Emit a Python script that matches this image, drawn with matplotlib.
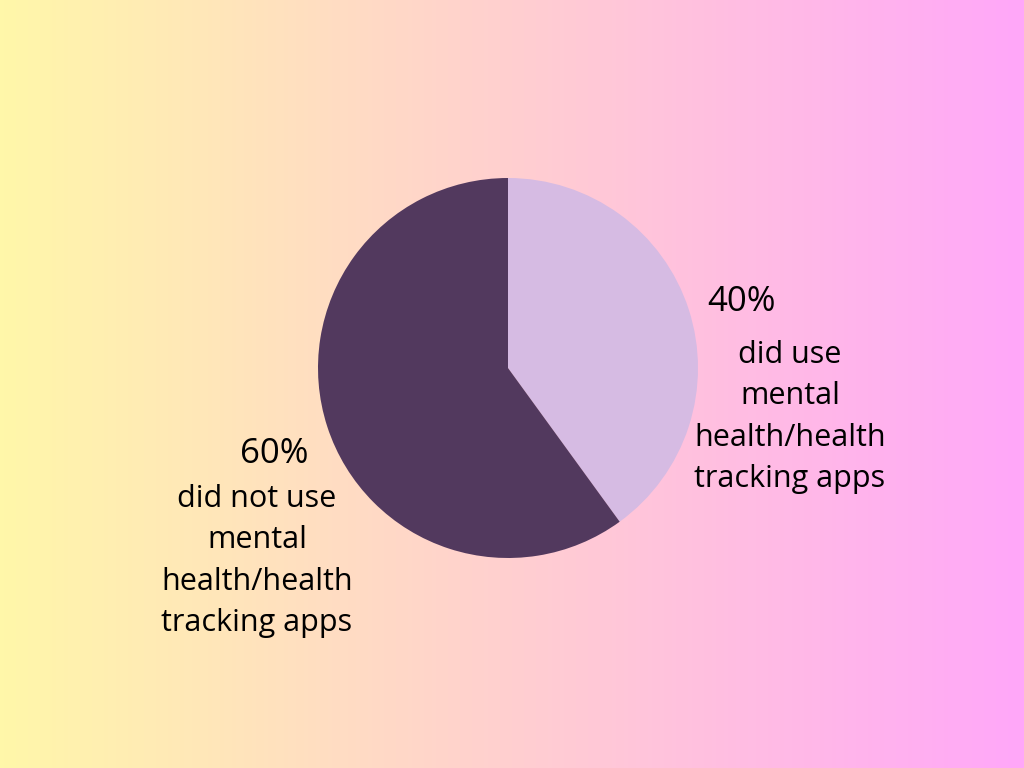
import numpy as np
import matplotlib
matplotlib.use("Agg")
import matplotlib.pyplot as plt
from matplotlib.colors import LinearSegmentedColormap

labels = ["did use\nmental\nhealth/health\ntracking apps",
          "did not use\nmental\nhealth/health\ntracking apps"]
pct_labels = ["40%", "60%"]
values = [40, 60]
colors = ["#D6BBE3", "#52395E"]

plt.rcParams['font.family'] = ['Open Sans', 'DejaVu Sans']

fig = plt.figure(figsize=(10.24, 7.68), dpi=100)

# gradient background
bg = fig.add_axes([0, 0, 1, 1])
cmap = LinearSegmentedColormap.from_list("bg", ["#FFF7A9", "#FFCFD0", "#FFA7F9"])
bg.imshow(np.linspace(0, 1, 512).reshape(1, -1), cmap=cmap, aspect='auto',
          extent=[0, 1, 0, 1])
bg.axis('off')

# pie
ax = fig.add_axes([318 / 1024, 1 - 558 / 768, 380 / 1024, 380 / 768])
ax.pie(values, colors=colors, startangle=90, counterclock=False,
       wedgeprops=dict(linewidth=0))
ax.set_xlim(-1, 1)
ax.set_ylim(-1, 1)
ax.set_aspect('equal')
ax.axis('off')

# annotations (figure pixel coords)
def put(x, y, s, size, ls=1.2):
    fig.text(x / 1024, 1 - y / 768, s, ha='center', va='center',
             fontsize=size, color='black', linespacing=ls)

put(741, 302, pct_labels[0], 25)
put(790, 417, labels[0], 22, 1.5)
put(274, 454, pct_labels[1], 25)
put(257, 561, labels[1], 22, 1.5)

fig.savefig("out.png", dpi=100)
